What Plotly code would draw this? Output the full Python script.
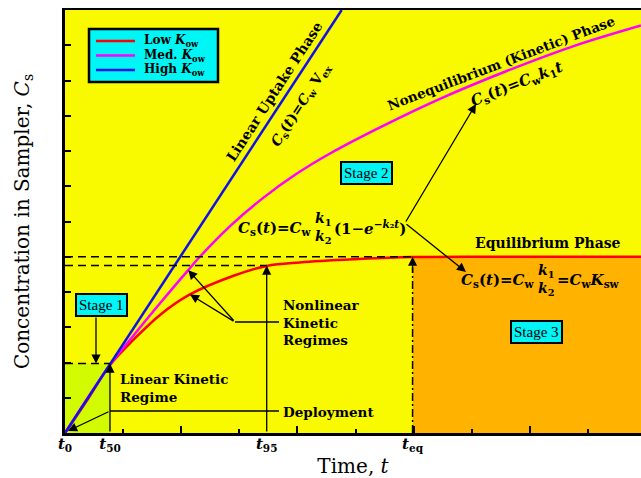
import plotly.graph_objects as go

# ---------------- data ----------------
time_low = [0, 0.40, 0.774, 1.175, 1.635, 2.15, 2.90, 3.47, 4.04, 5.0, 5.97, 7.5, 9.91]
conc_low = [0, 0.98, 1.93, 2.64, 3.35, 3.93, 4.46, 4.74, 4.84, 4.93, 4.99, 5.0, 5.0]

time_med = [0, 0.774, 1.175, 1.635, 2.12, 2.32, 2.84, 3.41, 3.99, 4.56, 5.42, 6.45, 7.60, 8.74, 9.91]
conc_med = [0, 1.93, 2.76, 3.68, 4.62, 5.00, 5.87, 6.67, 7.36, 7.93, 8.67, 9.48, 10.27, 10.97, 11.56]

time_high = [0, 4.76]
conc_high = [0, 12.0]

series_names = ["Low <i>K</i><sub>ow</sub>", "Med. <i>K</i><sub>ow</sub>", "High <i>K</i><sub>ow</sub>"]
series_colors = ["#FF0000", "#FF00FF", "#1010E8"]

key_time_vals = [0, 0.774, 3.47, 5.98]          # t0, t50, t95, teq
key_time_text = ["<i>t</i><sub>0</sub>", "<i>t</i><sub>50</sub>",
                 "<i>t</i><sub>95</sub>", "<i>t</i><sub>eq</sub>"]
c_t50 = 1.97      # concentration at t50
c_95 = 4.75       # 95 % of equilibrium
c_eq = 5.0        # equilibrium concentration

x_major_ticks = [2, 4, 6, 8]
x_minor_ticks = [1, 3, 5, 7, 9]
y_ticks = [1, 2, 3, 4, 5, 6, 7, 8, 9, 10, 11]

X_MAX = 9.91
Y_MAX = 12

# ---------------- styles ----------------
YELLOW = "#F9F900"
ORANGE = "#FFB300"
GREEN = "#D2FA00"
CYAN = "#00F5F5"
SERIF = "DejaVu Serif"
TIMES = "Liberation Serif"


# helpers to place annotations by their position in the 641x478 picture
def X(p):
    return (p - 65) / 576 * X_MAX


def Y(p):
    return (433 - p) / 423 * Y_MAX


fig = go.Figure()
for tx, cy, nm, col in zip([time_low, time_med, time_high], [conc_low, conc_med, conc_high],
                           series_names, series_colors):
    fig.add_trace(go.Scatter(x=tx, y=cy, mode="lines", name=nm, showlegend=False,
                             line=dict(color=col, width=2.5, shape="spline", smoothing=1.0)))
# invisible helper traces so the overlay axes are drawn
fig.add_trace(go.Scatter(x=[0], y=[0], xaxis="x2", mode="markers", marker=dict(opacity=0),
                         showlegend=False, hoverinfo="skip"))
fig.add_trace(go.Scatter(x=[0], y=[0], xaxis="x3", mode="markers", marker=dict(opacity=0),
                         showlegend=False, hoverinfo="skip"))

shapes = [
    # stage 1 and stage 3 regions
    dict(type="rect", xref="x", yref="y", x0=0, x1=key_time_vals[1], y0=0, y1=c_t50,
         fillcolor=GREEN, line=dict(width=0), layer="below"),
    dict(type="rect", xref="x", yref="y", x0=key_time_vals[3], x1=X_MAX, y0=0, y1=c_eq,
         fillcolor=ORANGE, line=dict(width=0), layer="below"),
    # dashed reference levels
    dict(type="line", xref="x", yref="y", x0=0, x1=key_time_vals[3], y0=c_eq, y1=c_eq,
         line=dict(color="black", width=1.5, dash="8px,5px")),
    dict(type="line", xref="x", yref="y", x0=0, x1=key_time_vals[2], y0=c_95, y1=c_95,
         line=dict(color="black", width=1.5, dash="8px,5px")),
    dict(type="line", xref="x", yref="y", x0=0, x1=key_time_vals[1], y0=c_t50, y1=c_t50,
         line=dict(color="black", width=1.5, dash="8px,5px")),
    # t_eq dash-dot marker
    dict(type="line", xref="x", yref="y", x0=key_time_vals[3], x1=key_time_vals[3], y0=0, y1=c_eq - 0.3,
         line=dict(color="black", width=1.5, dash="8px,3px,2px,3px")),
    # callout connectors
    dict(type="line", xref="x", yref="y", x0=X(235), x1=X(279), y0=Y(322), y1=Y(322),
         line=dict(color="black", width=1.3)),
    dict(type="line", xref="x", yref="y", x0=key_time_vals[1], x1=X(279), y0=Y(411), y1=Y(411),
         line=dict(color="black", width=1.3)),
    # legend box
    dict(type="rect", xref="x", yref="y", x0=X(89), x1=X(218), y0=Y(29), y1=Y(82),
         fillcolor=CYAN, line=dict(color="black", width=2.5)),
]

ann = []

# legend entries (sample line + label)
for i, (nm, col) in enumerate(zip(series_names, series_colors)):
    yy = Y(41 + 14.5 * i)
    shapes.append(dict(type="line", xref="x", yref="y", x0=X(96), x1=X(135), y0=yy, y1=yy,
                       line=dict(color=col, width=2.5)))
    ann.append(dict(x=X(142), y=yy, xref="x", yref="y", text=nm, showarrow=False,
                    xanchor="left", yanchor="middle",
                    font=dict(family=SERIF, size=12, color="black", weight="bold")))


def arrow(hx, hy, tx, ty):
    ann.append(dict(x=hx, y=hy, ax=tx, ay=ty, xref="x", yref="y", axref="x", ayref="y",
                    text="", showarrow=True, arrowhead=2, arrowsize=1.4, arrowwidth=1.3,
                    arrowcolor="black", standoff=0, startstandoff=0))


def label(x, y, text, size=14, bold=True, xanchor="center", angle=0, family=SERIF,
          align="center"):
    ann.append(dict(x=x, y=y, xref="x", yref="y", text=text, showarrow=False,
                    xanchor=xanchor, yanchor="middle", textangle=angle, align=align,
                    font=dict(family=family, size=size, color="black",
                              weight="bold" if bold else "normal")))


def stage(x, y, text):
    ann.append(dict(x=x, y=y, xref="x", yref="y", text=text, showarrow=False,
                    bgcolor=CYAN, bordercolor="black", borderwidth=2, borderpad=2,
                    font=dict(family=TIMES, size=15, color="black")))


stage(X(101), Y(305), "Stage 1")
stage(X(366), Y(173), "Stage 2")
stage(X(536.5), Y(332), "Stage 3")

# arrows
arrow(X(96), c_t50, X(96), Y(316))                          # stage 1 pointer
arrow(key_time_vals[1], c_t50, key_time_vals[1], 0)          # t50
arrow(key_time_vals[2], c_95, key_time_vals[2], 0)           # t95
arrow(key_time_vals[3], c_eq, key_time_vals[3], c_eq - 0.5)  # teq
arrow(X(68), Y(431), key_time_vals[1], Y(411))               # deployment
arrow(time_low[5], conc_low[5], X(235), Y(322))              # nonlinear -> low
arrow(time_med[4], conc_med[4], X(235), Y(322))              # nonlinear -> med
arrow(X(476), Y(104), X(405), Y(223))                        # eq -> k1 t
arrow(X(466), Y(272), X(405), Y(223))                        # eq -> equilibrium

# phase labels
label(X(274), Y(92), "Linear Uptake Phase", size=14, angle=-56.9)
label(X(301), Y(105), "<i>C</i><sub>s</sub>(<i>t</i>)=<i>C</i><sub>w</sub> V<sub>ex</sub>",
      size=14, angle=-56.9)
label(X(501), Y(63), "Nonequilibrium (Kinetic) Phase", size=13.5, angle=-20.8)
label(X(516), Y(84), "<i>C</i><sub>s</sub>(<i>t</i>)=<i>C</i><sub>w</sub><i>k</i><sub>1</sub><i>t</i>",
      size=15, angle=-21.5)

# equation 1
label(X(314), Y(228), "<i>C</i><sub>s</sub>(<i>t</i>)=<i>C</i><sub>w</sub>", size=15, xanchor="right")
label(X(323), Y(228), "<i>k</i><sub>1</sub><br><i>k</i><sub>2</sub>", size=14)
label(X(332), Y(228), "(1−<i>e</i><sup>−<i>k</i>₂<i>t</i></sup>)", size=15, xanchor="left")

# equilibrium
label(X(473), Y(243), "Equilibrium Phase", size=14, xanchor="left")
label(X(537), Y(280), "<i>C</i><sub>s</sub>(<i>t</i>)=<i>C</i><sub>w</sub>", size=15, xanchor="right")
label(X(546), Y(280), "<i>k</i><sub>1</sub><br><i>k</i><sub>2</sub>", size=14)
label(X(555), Y(280), "=<i>C</i><sub>w</sub><i>K</i><sub>sw</sub>", size=15, xanchor="left")

# regime labels
label(X(281), Y(322), "Nonlinear<br>Kinetic<br>Regimes", size=13.5, xanchor="left", align="left")
label(X(118), Y(388), "Linear Kinetic<br>Regime", size=13.5, xanchor="left", align="left")
label(X(281), Y(412), "Deployment", size=13.5, xanchor="left")

fig.update_layout(
    width=641, height=478,
    margin=dict(l=65, r=0, t=10, b=45),
    paper_bgcolor="white",
    plot_bgcolor=YELLOW,
    shapes=shapes,
    annotations=ann,
    showlegend=False,
    xaxis=dict(range=[0, X_MAX], showgrid=False, zeroline=False,
               showline=True, linewidth=3, linecolor="black",
               tickmode="array", tickvals=x_major_ticks, ticks="inside", ticklen=7,
               tickwidth=1.5, tickcolor="black", showticklabels=False,
               minor=dict(tickmode="array", tickvals=x_minor_ticks, ticks="inside",
                          ticklen=4, tickwidth=1.5, tickcolor="black", showgrid=False),
               title=dict(text="Time, <i>t</i>", standoff=24,
                          font=dict(family=SERIF, size=20, color="black"))),
    xaxis2=dict(overlaying="x", matches="x", side="bottom", showgrid=False, zeroline=False,
                showline=False, tickmode="array", tickvals=key_time_vals, ticktext=key_time_text,
                ticks="", tickfont=dict(family=SERIF, size=15, color="black", weight="bold")),
    xaxis3=dict(overlaying="x", matches="x", side="top", showgrid=False, zeroline=False,
                showline=True, linewidth=2, linecolor="black", ticks="", showticklabels=False),
    yaxis=dict(range=[0, Y_MAX], showgrid=False, zeroline=False,
               showline=True, linewidth=3, linecolor="black",
               tickmode="array", tickvals=y_ticks, ticks="inside", ticklen=6,
               tickwidth=1.5, tickcolor="black", showticklabels=False,
               title=dict(text="Concentration in Sampler, <i>C</i><sub>s</sub>", standoff=28,
                          font=dict(family=SERIF, size=20, color="black"))),
)

fig.write_html("out.html")
